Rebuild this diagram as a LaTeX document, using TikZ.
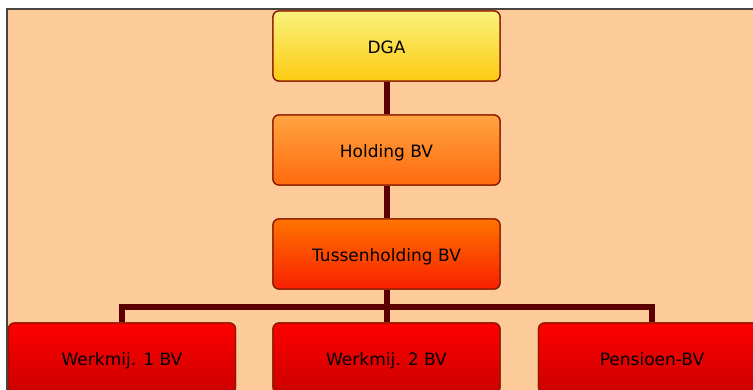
\documentclass[tikz,border=0pt]{standalone}
\usepackage{fontspec}
\setmainfont{DejaVu Sans}
\definecolor{peach}{HTML}{FDCA9A}
\definecolor{frame}{HTML}{4A4440}
\definecolor{boxline}{HTML}{8A1A00}
\definecolor{conn}{HTML}{5A0000}
\definecolor{ytop}{HTML}{FAF27C}
\definecolor{ybot}{HTML}{FCCB12}
\definecolor{otop}{HTML}{FFA440}
\definecolor{obot}{HTML}{FF6A0E}
\definecolor{rotop}{HTML}{FF7400}
\definecolor{robot}{HTML}{F82000}
\definecolor{rtop}{HTML}{FF0000}
\definecolor{rbot}{HTML}{CC0000}
\tikzset{
  orgbox/.style={draw=boxline, line width=1.3pt, rounded corners=6pt,
    minimum width=227pt, minimum height=70pt, inner sep=0pt,
    text height=15.5pt, text depth=0.5pt,
    font=\fontsize{17}{20}\selectfont, text=black},
  yellowbox/.style={orgbox, top color=ytop, bottom color=ybot},
  orangebox/.style={orgbox, top color=otop, bottom color=obot},
  redorangebox/.style={orgbox, top color=rotop, bottom color=robot},
  redbox/.style={orgbox, top color=rtop, bottom color=rbot},
  connector/.style={draw=conn, line width=6pt}
}
\begin{document}
\begin{tikzpicture}[x=1pt,y=-1pt]
\useasboundingbox (0,0) rectangle (753,390);
\clip (0,0) rectangle (753,390);
\fill[white] (0,0) rectangle (753,390);
\fill[peach] (7,9) rectangle (753,390);
\draw[frame, line width=2pt] (7,392) -- (7,9) -- (753,9);
% node positions (drawn first to define anchors)
\node[yellowbox] (dga) at (386.5,46) {DGA};
\node[orangebox] (hold) at (386.5,150) {Holding BV};
\node[redorangebox] (tus) at (386.5,254) {Tussenholding BV};
\node[redbox] (w1) at (122,358) {Werkmij. 1 BV};
\node[redbox] (w2) at (386.5,358) {Werkmij. 2 BV};
\node[redbox] (pen) at (652,358) {Pensioen-BV};
\coordinate (bus) at (386.5,307);
% connectors
\draw[connector] (dga.south) -- (hold.north);
\draw[connector] (hold.south) -- (tus.north);
\draw[connector] (tus.south) -- (bus);
\draw[connector, line join=miter] (w1.north) |- (bus) -| (pen.north);
\draw[connector] (bus) -- (w2.north);
% redraw boxes over connector ends
\node[yellowbox] at (dga) {DGA};
\node[orangebox] at (hold) {Holding BV};
\node[redorangebox] at (tus) {Tussenholding BV};
\node[redbox] at (w1) {Werkmij. 1 BV};
\node[redbox] at (w2) {Werkmij. 2 BV};
\node[redbox] at (pen) {Pensioen-BV};
\end{tikzpicture}
\end{document}
